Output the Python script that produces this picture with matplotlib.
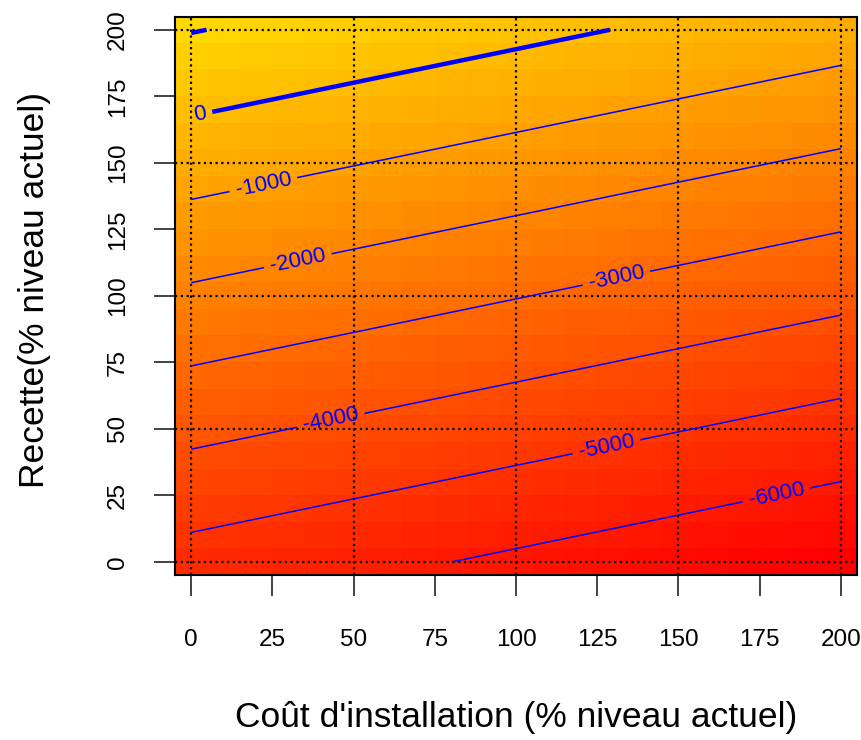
import numpy as np
import matplotlib
matplotlib.use("Agg")
import matplotlib.pyplot as plt
from matplotlib.colors import LinearSegmentedColormap

# ---- data ----
cout = np.arange(0, 201, 10)          # Coût d'installation (% niveau actuel)
recette = np.arange(0, 201, 10)       # Recette (% niveau actuel)
# surface values read at the four corners of the grid (plane surface)
z_bas_gauche = -5352    # (cout=0,   recette=0)
z_bas_droite = -6962    # (cout=200, recette=0)
z_haut_gauche = 1038    # (cout=0,   recette=200)
z_haut_droite = -572    # (cout=200, recette=200)
niveaux_fins = [-6000, -5000, -4000, -3000, -2000, -1000]
niveaux_epais = [0, 1000]
xticks = [0, 25, 50, 75, 100, 125, 150, 175, 200]
yticks = [0, 25, 50, 75, 100, 125, 150, 175, 200]
grille = [0, 50, 100, 150, 200]
pos_etiquettes = [(180, 26), (128, 42), (43, 53), (131, 106), (33, 112), (22, 143)]
pos_etiquette_zero = [(3, 167)]

# bilinear grid from the corner readings
u = (cout - cout.min()) / (cout.max() - cout.min())
v = (recette - recette.min()) / (recette.max() - recette.min())
U, V = np.meshgrid(u, v)
Z = (z_bas_gauche * (1 - U) * (1 - V) + z_bas_droite * U * (1 - V)
     + z_haut_gauche * (1 - U) * V + z_haut_droite * U * V)

plt.rcParams['font.family'] = ['Liberation Sans', 'DejaVu Sans']
fig = plt.figure(figsize=(8.62, 7.40), dpi=100)
ax = fig.add_axes([175/862, 1-575/740, (857-175)/862, (575-16.5)/740])

cmap = LinearSegmentedColormap.from_list("heat", [(1, 0, 0), (1, 216/255, 0)])
ax.imshow(Z, origin="lower", extent=(-5, 205, -5, 205), cmap=cmap,
          interpolation="nearest", aspect="auto", zorder=0)

for g in grille:
    ax.axvline(g, color="black", lw=1.6, ls=(0, (1, 1.6)), zorder=1)
    ax.axhline(g, color="black", lw=1.6, ls=(0, (1, 1.6)), zorder=1)

fmt = lambda v: f"{v:.0f}"
cs = ax.contour(cout, recette, Z, levels=niveaux_fins, colors="#0000FF",
                linewidths=1.1, linestyles="solid", zorder=2)
ax.clabel(cs, fmt=fmt, manual=pos_etiquettes, inline=True, fontsize=16,
          inline_spacing=6)
cs2 = ax.contour(cout, recette, Z, levels=niveaux_epais, colors="#0000FF",
                 linewidths=3.2, linestyles="solid", zorder=2)
ax.clabel(cs2, levels=[0], fmt=fmt, manual=pos_etiquette_zero, inline=True,
          fontsize=16, inline_spacing=6)

ax.set_xlim(-5, 205)
ax.set_ylim(-5, 205)
ax.set_xticks(xticks)
ax.set_yticks(yticks)
ax.tick_params(axis="both", length=15, width=1.2, labelsize=17.5, color="#222222")
ax.tick_params(axis="x", pad=24)
ax.tick_params(axis="y", pad=18)
for lab in ax.get_yticklabels():
    lab.set_rotation(90)
    lab.set_va("center")
for s in ax.spines.values():
    s.set_linewidth(1.5)

fig.text(516/862, 1-718/740, "Coût d'installation (% niveau actuel)",
         ha="center", va="center", fontsize=25.5)
fig.text(35/862, 1-290/740, "Recette(% niveau actuel)", ha="center",
         va="center", rotation=90, fontsize=25.5)

fig.savefig("out.png", dpi=100)
